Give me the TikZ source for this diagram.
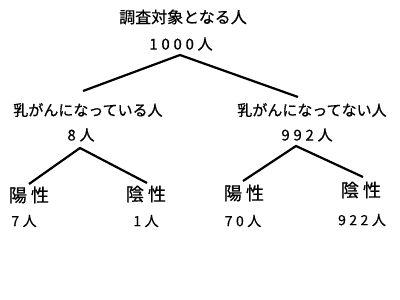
\documentclass[tikz,border=0pt]{standalone}
\usepackage{fontspec}
\newfontfamily\jp[FakeBold=0.6]{Noto Sans CJK JP}
\newfontfamily\jpnum[LetterSpace=25,FakeBold=0.4]{Noto Sans CJK JP}
\usetikzlibrary{positioning}

\begin{document}
\begin{tikzpicture}[x=1pt, y=-1pt]
    \useasboundingbox (0,0) rectangle (400,300);
    \tikzset{
        branch/.style={line width=2.2pt},
        title/.style={inner sep=0pt, font=\jp\fontsize{16}{16}\selectfont},
        group/.style={inner sep=0pt, font=\jp\fontsize{15}{15}\selectfont},
        count/.style={inner sep=0pt, font=\jpnum\fontsize{15}{15}\selectfont},
        result/.style={inner sep=0pt, font=\jp\fontsize{18}{18}\selectfont},
        small/.style={inner sep=0pt, font=\jpnum\fontsize{14}{14}\selectfont}
    }

    % Top
    \node[title] (all) at (183,17) {調査対象となる人};
    \node[count] (allnum) at (181,44) {1000人};

    % Middle layer
    \node[group] (sick) at (88,110) {乳がんになっている人};
    \node[count] (sicknum) at (81,135) {8人};
    \node[group] (well) at (312,110) {乳がんになってない人};
    \node[count] (wellnum) at (307,135) {992人};

    % Bottom layer
    \node[result] (pos1) at (29,195) {陽\hspace{4pt}性};
    \node[small] (pnum1) at (24,221) {7人};
    \node[result] (neg1) at (146,194) {陰\hspace{4pt}性};
    \node[small] (nnum1) at (146,221) {1人};
    \node[result] (pos2) at (244,193) {陽\hspace{4pt}性};
    \node[small] (pnum2) at (243,221) {70人};
    \node[result] (neg2) at (361,190) {陰\hspace{4pt}性};
    \node[small] (nnum2) at (362,220) {922人};

    % Branch points
    \coordinate (t0) at (180,55);
    \coordinate (t1) at (83,91);
    \coordinate (t2) at (298,97);
    \coordinate (s0) at (80,148);
    \coordinate (s1) at (29,184);
    \coordinate (s2) at (147,183);
    \coordinate (w0) at (296,146);
    \coordinate (w1) at (243,181);
    \coordinate (w2) at (363,177);

    % Connections
    \draw[branch] (t1) -- (t0) -- (t2);
    \draw[branch] (s1) -- (s0) -- (s2);
    \draw[branch] (w1) -- (w0) -- (w2);
\end{tikzpicture}
\end{document}
